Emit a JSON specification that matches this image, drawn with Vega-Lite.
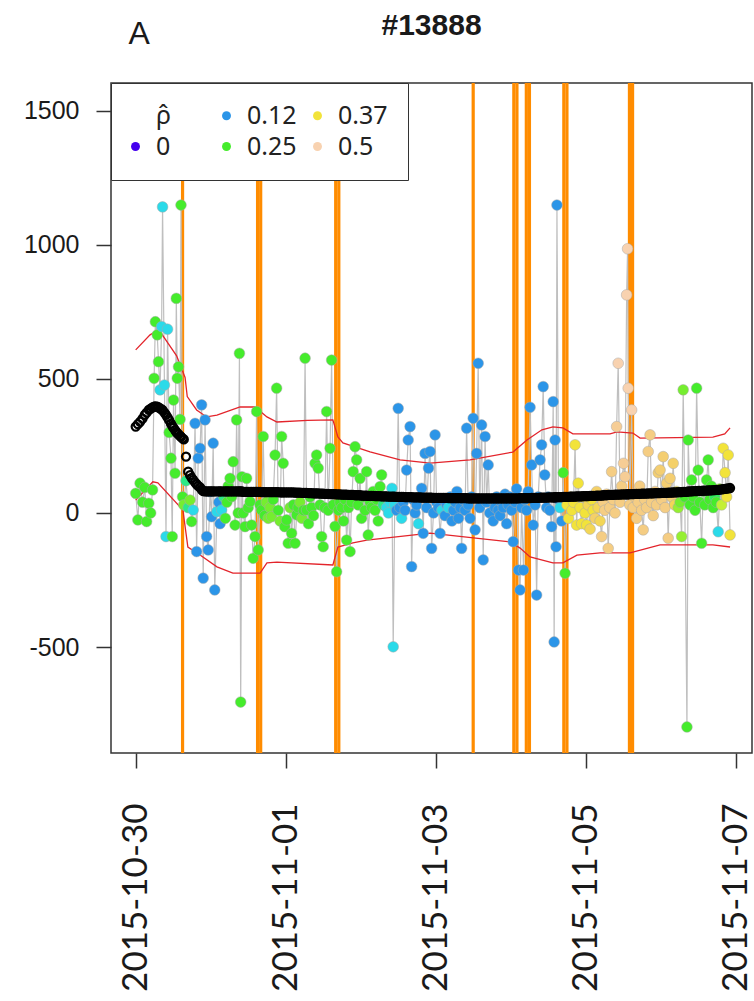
{
 "$schema": "https://vega.github.io/schema/vega-lite/v6.json",
 "width": 641,
 "height": 670,
 "autosize": {"type": "none"},
 "padding": {"left": 111, "top": 83, "right": 2, "bottom": 248},
 "background": "white",
 "config": {
  "view": {"stroke": "#333333", "strokeWidth": 1.5},
  "axis": {"grid": false, "domain": false, "tickColor": "#333333", "tickWidth": 1.5, "tickSize": 15, "labelColor": "#1a1a1a", "titleColor": "#1a1a1a"}
 },
 "datasets": {
  "ev": [
   {"t": "2015-10-30T15:00Z"},
   {"t": "2015-10-31T15:00Z"}, {"t": "2015-10-31T16:00Z"},
   {"t": "2015-11-01T16:00Z"}, {"t": "2015-11-01T17:00Z"},
   {"t": "2015-11-03T12:00Z"},
   {"t": "2015-11-04T01:00Z"}, {"t": "2015-11-04T02:00Z"},
   {"t": "2015-11-04T05:00Z"}, {"t": "2015-11-04T06:00Z"},
   {"t": "2015-11-04T17:00Z"}, {"t": "2015-11-04T18:00Z"},
   {"t": "2015-11-05T14:00Z"}, {"t": "2015-11-05T15:00Z"}
  ],
  "band": [
   {"t": "2015-10-30T00:00Z", "b": 608, "s": "hi"},
   {"t": "2015-10-30T04:36Z", "b": 664, "s": "hi"},
   {"t": "2015-10-30T06:12Z", "b": 675, "s": "hi"},
   {"t": "2015-10-30T08:18Z", "b": 668, "s": "hi"},
   {"t": "2015-10-30T13:06Z", "b": 586, "s": "hi"},
   {"t": "2015-10-30T15:48Z", "b": 505, "s": "hi"},
   {"t": "2015-10-30T16:30Z", "b": 434, "s": "hi"},
   {"t": "2015-10-30T19:30Z", "b": 384, "s": "hi"},
   {"t": "2015-10-30T22:42Z", "b": 358, "s": "hi"},
   {"t": "2015-10-31T02:00Z", "b": 365, "s": "hi"},
   {"t": "2015-10-31T09:24Z", "b": 395, "s": "hi"},
   {"t": "2015-10-31T14:12Z", "b": 395, "s": "hi"},
   {"t": "2015-10-31T18:00Z", "b": 358, "s": "hi"},
   {"t": "2015-10-31T21:12Z", "b": 339, "s": "hi"},
   {"t": "2015-11-01T07:00Z", "b": 345, "s": "hi"},
   {"t": "2015-11-01T15:06Z", "b": 347, "s": "hi"},
   {"t": "2015-11-01T16:42Z", "b": 283, "s": "hi"},
   {"t": "2015-11-01T18:18Z", "b": 261, "s": "hi"},
   {"t": "2015-11-02T03:00Z", "b": 228, "s": "hi"},
   {"t": "2015-11-02T12:36Z", "b": 198, "s": "hi"},
   {"t": "2015-11-02T22:12Z", "b": 186, "s": "hi"},
   {"t": "2015-11-03T11:00Z", "b": 198, "s": "hi"},
   {"t": "2015-11-04T00:42Z", "b": 227, "s": "hi"},
   {"t": "2015-11-04T05:12Z", "b": 272, "s": "hi"},
   {"t": "2015-11-04T10:00Z", "b": 310, "s": "hi"},
   {"t": "2015-11-04T13:30Z", "b": 321, "s": "hi"},
   {"t": "2015-11-04T16:42Z", "b": 317, "s": "hi"},
   {"t": "2015-11-04T19:54Z", "b": 295, "s": "hi"},
   {"t": "2015-11-05T07:48Z", "b": 295, "s": "hi"},
   {"t": "2015-11-05T10:00Z", "b": 302, "s": "hi"},
   {"t": "2015-11-05T15:06Z", "b": 298, "s": "hi"},
   {"t": "2015-11-05T17:24Z", "b": 279, "s": "hi"},
   {"t": "2015-11-06T16:42Z", "b": 283, "s": "hi"},
   {"t": "2015-11-06T20:30Z", "b": 295, "s": "hi"},
   {"t": "2015-11-06T22:12Z", "b": 317, "s": "hi"},
   {"t": "2015-10-30T00:00Z", "b": 48, "s": "lo"},
   {"t": "2015-10-30T05:30Z", "b": 116, "s": "lo"},
   {"t": "2015-10-30T07:06Z", "b": 112, "s": "lo"},
   {"t": "2015-10-30T15:06Z", "b": 11, "s": "lo"},
   {"t": "2015-10-30T16:42Z", "b": -127, "s": "lo"},
   {"t": "2015-10-30T20:36Z", "b": -157, "s": "lo"},
   {"t": "2015-10-31T02:00Z", "b": -201, "s": "lo"},
   {"t": "2015-10-31T07:06Z", "b": -224, "s": "lo"},
   {"t": "2015-10-31T15:48Z", "b": -224, "s": "lo"},
   {"t": "2015-10-31T18:00Z", "b": -186, "s": "lo"},
   {"t": "2015-10-31T21:12Z", "b": -183, "s": "lo"},
   {"t": "2015-11-01T15:06Z", "b": -194, "s": "lo"},
   {"t": "2015-11-01T16:42Z", "b": -127, "s": "lo"},
   {"t": "2015-11-01T21:30Z", "b": -112, "s": "lo"},
   {"t": "2015-11-02T02:00Z", "b": -101, "s": "lo"},
   {"t": "2015-11-02T22:12Z", "b": -75, "s": "lo"},
   {"t": "2015-11-03T23:48Z", "b": -108, "s": "lo"},
   {"t": "2015-11-04T03:00Z", "b": -131, "s": "lo"},
   {"t": "2015-11-04T06:12Z", "b": -164, "s": "lo"},
   {"t": "2015-11-04T13:30Z", "b": -186, "s": "lo"},
   {"t": "2015-11-04T16:42Z", "b": -186, "s": "lo"},
   {"t": "2015-11-04T21:12Z", "b": -157, "s": "lo"},
   {"t": "2015-11-05T04:36Z", "b": -149, "s": "lo"},
   {"t": "2015-11-05T14:12Z", "b": -149, "s": "lo"},
   {"t": "2015-11-05T23:48Z", "b": -119, "s": "lo"},
   {"t": "2015-11-06T16:42Z", "b": -119, "s": "lo"},
   {"t": "2015-11-06T22:12Z", "b": -127, "s": "lo"}
  ],
  "leg": [
   {"lab": "\u03c1\u0302"}, {"lab": "0"}, {"lab": "0.12"},
   {"lab": "0.25"}, {"lab": "0.37"}, {"lab": "0.5"}
  ],
  "obs": [
   {"t": "2015-10-30T00:00Z", "v": 73, "r": 0.25, "m": 322},
   {"t": "2015-10-30T00:42Z", "v": -26, "r": 0.25, "m": 331},
   {"t": "2015-10-30T01:24Z", "v": 111, "r": 0.25, "m": 340},
   {"t": "2015-10-30T02:12Z", "v": 40, "r": 0.25, "m": 352},
   {"t": "2015-10-30T02:54Z", "v": 95, "r": 0.25, "m": 366},
   {"t": "2015-10-30T03:30Z", "v": -32, "r": 0.25, "m": 374},
   {"t": "2015-10-30T04:12Z", "v": 36, "r": 0.25, "m": 384},
   {"t": "2015-10-30T04:48Z", "v": 0, "r": 0.25, "m": 389},
   {"t": "2015-10-30T05:24Z", "v": 86, "r": 0.25, "m": 394},
   {"t": "2015-10-30T05:54Z", "v": 502, "r": 0.25, "m": 396},
   {"t": "2015-10-30T06:18Z", "v": 713, "r": 0.25, "m": 397},
   {"t": "2015-10-30T06:54Z", "v": 664, "r": 0.25, "m": 396},
   {"t": "2015-10-30T07:18Z", "v": 564, "r": 0.25, "m": 394},
   {"t": "2015-10-30T07:48Z", "v": 459, "r": 0.15, "m": 390},
   {"t": "2015-10-30T08:18Z", "v": 695, "r": 0.15, "m": 386},
   {"t": "2015-10-30T08:36Z", "v": 1141, "r": 0.15, "m": 383},
   {"t": "2015-10-30T09:12Z", "v": 477, "r": 0.15, "m": 374},
   {"t": "2015-10-30T09:42Z", "v": -88, "r": 0.15, "m": 366},
   {"t": "2015-10-30T10:12Z", "v": 685, "r": 0.15, "m": 356},
   {"t": "2015-10-30T10:42Z", "v": 300, "r": 0.25, "m": 346},
   {"t": "2015-10-30T11:18Z", "v": 204, "r": 0.25, "m": 333},
   {"t": "2015-10-30T11:42Z", "v": -88, "r": 0.25, "m": 325},
   {"t": "2015-10-30T12:06Z", "v": 421, "r": 0.25, "m": 317},
   {"t": "2015-10-30T12:36Z", "v": 148, "r": 0.25, "m": 309},
   {"t": "2015-10-30T13:00Z", "v": 800, "r": 0.25, "m": 302},
   {"t": "2015-10-30T13:18Z", "v": 502, "r": 0.25, "m": 298},
   {"t": "2015-10-30T13:42Z", "v": 545, "r": 0.25, "m": 293},
   {"t": "2015-10-30T14:12Z", "v": 349, "r": 0.25, "m": 287},
   {"t": "2015-10-30T14:30Z", "v": 1148, "r": 0.25, "m": 284},
   {"t": "2015-10-30T15:00Z", "v": 60, "r": 0.25, "m": 278},
   {"t": "2015-10-30T15:24Z", "v": 30, "r": 0.28, "m": 274},
   {"t": "2015-10-30T16:06Z", "v": 120, "r": 0.2, "m": 210},
   {"t": "2015-10-30T16:48Z", "v": 20, "r": 0.2, "m": 154},
   {"t": "2015-10-30T17:24Z", "v": 48, "r": 0.28, "m": 141},
   {"t": "2015-10-30T17:54Z", "v": -32, "r": 0.25, "m": 131},
   {"t": "2015-10-30T18:24Z", "v": 11, "r": 0.15, "m": 123},
   {"t": "2015-10-30T19:00Z", "v": 334, "r": 0.12, "m": 114},
   {"t": "2015-10-30T19:30Z", "v": -144, "r": 0.12, "m": 107},
   {"t": "2015-10-30T20:00Z", "v": 204, "r": 0.12, "m": 101},
   {"t": "2015-10-30T20:36Z", "v": 241, "r": 0.12, "m": 95},
   {"t": "2015-10-30T21:06Z", "v": 403, "r": 0.12, "m": 87},
   {"t": "2015-10-30T21:36Z", "v": -243, "r": 0.12, "m": 81},
   {"t": "2015-10-30T22:12Z", "v": 347, "r": 0.12, "m": 80},
   {"t": "2015-10-30T22:42Z", "v": -88, "r": 0.12, "m": 80},
   {"t": "2015-10-30T23:12Z", "v": -138, "r": 0.12, "m": 80},
   {"t": "2015-10-30T23:48Z", "v": 79, "r": 0.12, "m": 80},
   {"t": "2015-10-31T00:18Z", "v": -14, "r": 0.12, "m": 80},
   {"t": "2015-10-31T00:48Z", "v": 260, "r": 0.12, "m": 80},
   {"t": "2015-10-31T01:18Z", "v": -287, "r": 0.12, "m": 80},
   {"t": "2015-10-31T02:00Z", "v": 5, "r": 0.15, "m": 80},
   {"t": "2015-10-31T02:36Z", "v": 40, "r": 0.12, "m": 80},
   {"t": "2015-10-31T03:00Z", "v": -40, "r": 0.12, "m": 80},
   {"t": "2015-10-31T03:30Z", "v": 11, "r": 0.15, "m": 80},
   {"t": "2015-10-31T04:12Z", "v": 60, "r": 0.2, "m": 80},
   {"t": "2015-10-31T04:42Z", "v": -20, "r": 0.25, "m": 80},
   {"t": "2015-10-31T05:12Z", "v": 40, "r": 0.25, "m": 80},
   {"t": "2015-10-31T05:36Z", "v": 100, "r": 0.25, "m": 80},
   {"t": "2015-10-31T06:12Z", "v": 129, "r": 0.25, "m": 80},
   {"t": "2015-10-31T06:42Z", "v": 61, "r": 0.25, "m": 80},
   {"t": "2015-10-31T07:12Z", "v": 191, "r": 0.25, "m": 80},
   {"t": "2015-10-31T07:48Z", "v": -45, "r": 0.25, "m": 80},
   {"t": "2015-10-31T08:18Z", "v": 347, "r": 0.25, "m": 80},
   {"t": "2015-10-31T08:48Z", "v": 0, "r": 0.25, "m": 80},
   {"t": "2015-10-31T09:12Z", "v": 595, "r": 0.25, "m": 80},
   {"t": "2015-10-31T09:36Z", "v": -705, "r": 0.25, "m": 80},
   {"t": "2015-10-31T10:00Z", "v": 135, "r": 0.25, "m": 80},
   {"t": "2015-10-31T10:24Z", "v": 0, "r": 0.25, "m": 79},
   {"t": "2015-10-31T11:00Z", "v": -51, "r": 0.25, "m": 79},
   {"t": "2015-10-31T11:30Z", "v": 129, "r": 0.25, "m": 79},
   {"t": "2015-10-31T12:00Z", "v": 20, "r": 0.25, "m": 79},
   {"t": "2015-10-31T12:36Z", "v": 42, "r": 0.25, "m": 79},
   {"t": "2015-10-31T13:06Z", "v": -45, "r": 0.25, "m": 79},
   {"t": "2015-10-31T13:36Z", "v": -169, "r": 0.25, "m": 79},
   {"t": "2015-10-31T14:12Z", "v": -88, "r": 0.25, "m": 79},
   {"t": "2015-10-31T14:42Z", "v": 378, "r": 0.25, "m": 79},
   {"t": "2015-10-31T15:12Z", "v": -138, "r": 0.25, "m": 79},
   {"t": "2015-10-31T15:48Z", "v": 30, "r": 0.25, "m": 79},
   {"t": "2015-10-31T16:18Z", "v": 10, "r": 0.25, "m": 78},
   {"t": "2015-10-31T16:48Z", "v": 285, "r": 0.25, "m": 78},
   {"t": "2015-10-31T17:18Z", "v": -10, "r": 0.25, "m": 78},
   {"t": "2015-10-31T17:48Z", "v": 40, "r": 0.28, "m": 78},
   {"t": "2015-10-31T18:24Z", "v": -20, "r": 0.28, "m": 78},
   {"t": "2015-10-31T19:00Z", "v": 20, "r": 0.28, "m": 78},
   {"t": "2015-10-31T19:30Z", "v": -14, "r": 0.28, "m": 78},
   {"t": "2015-10-31T20:00Z", "v": 50, "r": 0.25, "m": 78},
   {"t": "2015-10-31T20:36Z", "v": 216, "r": 0.25, "m": 78},
   {"t": "2015-10-31T21:06Z", "v": 465, "r": 0.25, "m": 78},
   {"t": "2015-10-31T21:36Z", "v": 10, "r": 0.25, "m": 78},
   {"t": "2015-10-31T22:12Z", "v": -30, "r": 0.28, "m": 77},
   {"t": "2015-10-31T22:42Z", "v": 285, "r": 0.25, "m": 77},
   {"t": "2015-10-31T23:12Z", "v": 185, "r": 0.25, "m": 77},
   {"t": "2015-10-31T23:42Z", "v": -51, "r": 0.25, "m": 77},
   {"t": "2015-11-01T00:18Z", "v": -26, "r": 0.25, "m": 77},
   {"t": "2015-11-01T00:48Z", "v": -113, "r": 0.25, "m": 77},
   {"t": "2015-11-01T01:24Z", "v": 20, "r": 0.28, "m": 77},
   {"t": "2015-11-01T01:54Z", "v": -76, "r": 0.25, "m": 77},
   {"t": "2015-11-01T02:30Z", "v": 30, "r": 0.25, "m": 77},
   {"t": "2015-11-01T03:00Z", "v": -113, "r": 0.25, "m": 76},
   {"t": "2015-11-01T03:30Z", "v": -7, "r": 0.25, "m": 76},
   {"t": "2015-11-01T04:00Z", "v": 20, "r": 0.25, "m": 76},
   {"t": "2015-11-01T04:36Z", "v": 40, "r": 0.28, "m": 76},
   {"t": "2015-11-01T05:12Z", "v": -20, "r": 0.28, "m": 75},
   {"t": "2015-11-01T05:42Z", "v": 10, "r": 0.25, "m": 75},
   {"t": "2015-11-01T06:12Z", "v": 577, "r": 0.25, "m": 75},
   {"t": "2015-11-01T06:42Z", "v": 11, "r": 0.25, "m": 75},
   {"t": "2015-11-01T07:18Z", "v": -40, "r": 0.25, "m": 74},
   {"t": "2015-11-01T07:48Z", "v": 60, "r": 0.25, "m": 74},
   {"t": "2015-11-01T08:18Z", "v": 20, "r": 0.25, "m": 74},
   {"t": "2015-11-01T08:54Z", "v": -10, "r": 0.25, "m": 73},
   {"t": "2015-11-01T09:24Z", "v": 185, "r": 0.25, "m": 73},
   {"t": "2015-11-01T09:54Z", "v": 216, "r": 0.25, "m": 73},
   {"t": "2015-11-01T10:24Z", "v": 167, "r": 0.25, "m": 73},
   {"t": "2015-11-01T11:00Z", "v": 30, "r": 0.25, "m": 72},
   {"t": "2015-11-01T11:30Z", "v": -88, "r": 0.25, "m": 72},
   {"t": "2015-11-01T12:00Z", "v": -126, "r": 0.25, "m": 72},
   {"t": "2015-11-01T12:30Z", "v": 20, "r": 0.25, "m": 71},
   {"t": "2015-11-01T13:06Z", "v": 378, "r": 0.25, "m": 71},
   {"t": "2015-11-01T13:36Z", "v": 10, "r": 0.25, "m": 71},
   {"t": "2015-11-01T14:12Z", "v": 241, "r": 0.25, "m": 70},
   {"t": "2015-11-01T14:42Z", "v": 570, "r": 0.25, "m": 70},
   {"t": "2015-11-01T15:12Z", "v": 30, "r": 0.25, "m": 70},
   {"t": "2015-11-01T15:48Z", "v": -50, "r": 0.25, "m": 70},
   {"t": "2015-11-01T16:18Z", "v": -219, "r": 0.25, "m": 69},
   {"t": "2015-11-01T16:54Z", "v": 10, "r": 0.25, "m": 69},
   {"t": "2015-11-01T17:24Z", "v": 40, "r": 0.25, "m": 69},
   {"t": "2015-11-01T18:00Z", "v": 20, "r": 0.25, "m": 68},
   {"t": "2015-11-01T18:30Z", "v": -30, "r": 0.25, "m": 68},
   {"t": "2015-11-01T19:00Z", "v": 50, "r": 0.25, "m": 68},
   {"t": "2015-11-01T19:30Z", "v": -101, "r": 0.25, "m": 68},
   {"t": "2015-11-01T20:06Z", "v": 20, "r": 0.25, "m": 67},
   {"t": "2015-11-01T20:36Z", "v": -144, "r": 0.25, "m": 67},
   {"t": "2015-11-01T21:06Z", "v": 40, "r": 0.25, "m": 67},
   {"t": "2015-11-01T21:36Z", "v": 154, "r": 0.25, "m": 67},
   {"t": "2015-11-01T22:12Z", "v": 247, "r": 0.25, "m": 66},
   {"t": "2015-11-01T22:42Z", "v": 198, "r": 0.25, "m": 66},
   {"t": "2015-11-01T23:12Z", "v": 30, "r": 0.25, "m": 66},
   {"t": "2015-11-01T23:48Z", "v": 129, "r": 0.25, "m": 66},
   {"t": "2015-11-02T00:18Z", "v": -20, "r": 0.25, "m": 65},
   {"t": "2015-11-02T00:48Z", "v": 60, "r": 0.25, "m": 65},
   {"t": "2015-11-02T01:24Z", "v": 10, "r": 0.25, "m": 65},
   {"t": "2015-11-02T01:54Z", "v": 154, "r": 0.25, "m": 65},
   {"t": "2015-11-02T02:24Z", "v": -82, "r": 0.25, "m": 64},
   {"t": "2015-11-02T03:00Z", "v": 40, "r": 0.25, "m": 64},
   {"t": "2015-11-02T03:30Z", "v": 20, "r": 0.25, "m": 64},
   {"t": "2015-11-02T04:00Z", "v": 80, "r": 0.25, "m": 64},
   {"t": "2015-11-02T04:36Z", "v": 10, "r": 0.25, "m": 63},
   {"t": "2015-11-02T05:06Z", "v": 50, "r": 0.25, "m": 63},
   {"t": "2015-11-02T05:36Z", "v": -30, "r": 0.25, "m": 63},
   {"t": "2015-11-02T06:12Z", "v": 98, "r": 0.25, "m": 63},
   {"t": "2015-11-02T06:42Z", "v": 142, "r": 0.25, "m": 62},
   {"t": "2015-11-02T07:12Z", "v": 30, "r": 0.2, "m": 62},
   {"t": "2015-11-02T07:48Z", "v": 60, "r": 0.2, "m": 62},
   {"t": "2015-11-02T08:18Z", "v": 20, "r": 0.15, "m": 62},
   {"t": "2015-11-02T08:54Z", "v": 0, "r": 0.15, "m": 61},
   {"t": "2015-11-02T09:24Z", "v": 40, "r": 0.15, "m": 61},
   {"t": "2015-11-02T10:00Z", "v": 92, "r": 0.15, "m": 61},
   {"t": "2015-11-02T10:24Z", "v": -499, "r": 0.15, "m": 61},
   {"t": "2015-11-02T10:54Z", "v": 30, "r": 0.15, "m": 61},
   {"t": "2015-11-02T11:30Z", "v": 10, "r": 0.12, "m": 60},
   {"t": "2015-11-02T12:00Z", "v": 390, "r": 0.12, "m": 60},
   {"t": "2015-11-02T12:30Z", "v": 20, "r": 0.12, "m": 60},
   {"t": "2015-11-02T13:06Z", "v": -20, "r": 0.15, "m": 60},
   {"t": "2015-11-02T13:36Z", "v": 40, "r": 0.12, "m": 60},
   {"t": "2015-11-02T14:12Z", "v": 10, "r": 0.12, "m": 59},
   {"t": "2015-11-02T14:42Z", "v": 160, "r": 0.12, "m": 59},
   {"t": "2015-11-02T15:12Z", "v": 272, "r": 0.12, "m": 59},
   {"t": "2015-11-02T15:48Z", "v": 322, "r": 0.12, "m": 59},
   {"t": "2015-11-02T16:18Z", "v": -200, "r": 0.12, "m": 59},
   {"t": "2015-11-02T16:48Z", "v": 50, "r": 0.12, "m": 58},
   {"t": "2015-11-02T17:24Z", "v": 0, "r": 0.12, "m": 58},
   {"t": "2015-11-02T17:54Z", "v": 30, "r": 0.12, "m": 58},
   {"t": "2015-11-02T18:30Z", "v": -40, "r": 0.15, "m": 58},
   {"t": "2015-11-02T19:00Z", "v": 60, "r": 0.12, "m": 58},
   {"t": "2015-11-02T19:30Z", "v": 92, "r": 0.12, "m": 57},
   {"t": "2015-11-02T20:00Z", "v": -76, "r": 0.12, "m": 57},
   {"t": "2015-11-02T20:36Z", "v": 222, "r": 0.12, "m": 57},
   {"t": "2015-11-02T21:06Z", "v": 20, "r": 0.12, "m": 57},
   {"t": "2015-11-02T21:42Z", "v": 167, "r": 0.12, "m": 57},
   {"t": "2015-11-02T22:12Z", "v": 229, "r": 0.12, "m": 57},
   {"t": "2015-11-02T22:42Z", "v": -132, "r": 0.12, "m": 57},
   {"t": "2015-11-02T23:18Z", "v": 0, "r": 0.12, "m": 56},
   {"t": "2015-11-02T23:48Z", "v": 291, "r": 0.12, "m": 56},
   {"t": "2015-11-03T00:18Z", "v": 40, "r": 0.12, "m": 56},
   {"t": "2015-11-03T00:54Z", "v": 20, "r": 0.12, "m": 56},
   {"t": "2015-11-03T01:24Z", "v": -76, "r": 0.12, "m": 56},
   {"t": "2015-11-03T02:00Z", "v": 10, "r": 0.15, "m": 56},
   {"t": "2015-11-03T02:30Z", "v": 50, "r": 0.12, "m": 56},
   {"t": "2015-11-03T03:00Z", "v": -10, "r": 0.12, "m": 56},
   {"t": "2015-11-03T03:36Z", "v": 30, "r": 0.12, "m": 56},
   {"t": "2015-11-03T04:06Z", "v": 20, "r": 0.15, "m": 55},
   {"t": "2015-11-03T04:42Z", "v": 60, "r": 0.12, "m": 55},
   {"t": "2015-11-03T05:12Z", "v": -30, "r": 0.12, "m": 55},
   {"t": "2015-11-03T05:42Z", "v": 10, "r": 0.12, "m": 55},
   {"t": "2015-11-03T06:18Z", "v": 40, "r": 0.12, "m": 55},
   {"t": "2015-11-03T06:48Z", "v": 80, "r": 0.12, "m": 55},
   {"t": "2015-11-03T07:18Z", "v": -20, "r": 0.12, "m": 55},
   {"t": "2015-11-03T07:54Z", "v": 20, "r": 0.12, "m": 55},
   {"t": "2015-11-03T08:18Z", "v": -132, "r": 0.12, "m": 55},
   {"t": "2015-11-03T08:48Z", "v": 50, "r": 0.12, "m": 55},
   {"t": "2015-11-03T09:24Z", "v": 10, "r": 0.12, "m": 55},
   {"t": "2015-11-03T09:54Z", "v": 316, "r": 0.12, "m": 55},
   {"t": "2015-11-03T10:24Z", "v": 30, "r": 0.12, "m": 54},
   {"t": "2015-11-03T11:00Z", "v": -20, "r": 0.12, "m": 54},
   {"t": "2015-11-03T11:30Z", "v": 60, "r": 0.12, "m": 54},
   {"t": "2015-11-03T12:00Z", "v": 353, "r": 0.12, "m": 54},
   {"t": "2015-11-03T12:36Z", "v": -63, "r": 0.12, "m": 54},
   {"t": "2015-11-03T13:06Z", "v": 222, "r": 0.12, "m": 54},
   {"t": "2015-11-03T13:36Z", "v": 558, "r": 0.12, "m": 54},
   {"t": "2015-11-03T14:06Z", "v": 20, "r": 0.12, "m": 54},
   {"t": "2015-11-03T14:42Z", "v": 328, "r": 0.12, "m": 54},
   {"t": "2015-11-03T15:12Z", "v": -175, "r": 0.12, "m": 54},
   {"t": "2015-11-03T15:48Z", "v": 285, "r": 0.12, "m": 54},
   {"t": "2015-11-03T16:18Z", "v": 40, "r": 0.12, "m": 54},
   {"t": "2015-11-03T16:48Z", "v": 179, "r": 0.12, "m": 54},
   {"t": "2015-11-03T17:18Z", "v": 0, "r": 0.12, "m": 54},
   {"t": "2015-11-03T17:54Z", "v": 50, "r": 0.12, "m": 54},
   {"t": "2015-11-03T18:24Z", "v": -30, "r": 0.12, "m": 54},
   {"t": "2015-11-03T19:00Z", "v": 20, "r": 0.12, "m": 54},
   {"t": "2015-11-03T19:30Z", "v": 60, "r": 0.12, "m": 54},
   {"t": "2015-11-03T20:00Z", "v": 10, "r": 0.12, "m": 54},
   {"t": "2015-11-03T20:36Z", "v": -10, "r": 0.12, "m": 54},
   {"t": "2015-11-03T21:06Z", "v": 40, "r": 0.12, "m": 54},
   {"t": "2015-11-03T21:36Z", "v": 20, "r": 0.12, "m": 54},
   {"t": "2015-11-03T22:12Z", "v": 70, "r": 0.12, "m": 54},
   {"t": "2015-11-03T22:42Z", "v": -40, "r": 0.12, "m": 54},
   {"t": "2015-11-03T23:12Z", "v": 30, "r": 0.12, "m": 54},
   {"t": "2015-11-03T23:48Z", "v": 60, "r": 0.12, "m": 54},
   {"t": "2015-11-04T00:18Z", "v": 10, "r": 0.12, "m": 54},
   {"t": "2015-11-04T00:48Z", "v": -107, "r": 0.12, "m": 54},
   {"t": "2015-11-04T01:24Z", "v": 40, "r": 0.12, "m": 54},
   {"t": "2015-11-04T01:54Z", "v": 90, "r": 0.12, "m": 54},
   {"t": "2015-11-04T02:30Z", "v": -213, "r": 0.12, "m": 54},
   {"t": "2015-11-04T03:00Z", "v": -287, "r": 0.12, "m": 55},
   {"t": "2015-11-04T03:30Z", "v": 20, "r": 0.12, "m": 55},
   {"t": "2015-11-04T04:06Z", "v": -213, "r": 0.12, "m": 55},
   {"t": "2015-11-04T04:36Z", "v": 50, "r": 0.12, "m": 55},
   {"t": "2015-11-04T05:06Z", "v": 10, "r": 0.12, "m": 55},
   {"t": "2015-11-04T05:36Z", "v": 80, "r": 0.12, "m": 55},
   {"t": "2015-11-04T06:12Z", "v": 394, "r": 0.12, "m": 55},
   {"t": "2015-11-04T06:42Z", "v": 179, "r": 0.12, "m": 56},
   {"t": "2015-11-04T07:12Z", "v": -45, "r": 0.12, "m": 56},
   {"t": "2015-11-04T07:48Z", "v": 30, "r": 0.12, "m": 56},
   {"t": "2015-11-04T08:18Z", "v": -306, "r": 0.12, "m": 56},
   {"t": "2015-11-04T08:48Z", "v": 60, "r": 0.12, "m": 56},
   {"t": "2015-11-04T09:24Z", "v": 198, "r": 0.12, "m": 57},
   {"t": "2015-11-04T09:54Z", "v": 254, "r": 0.12, "m": 57},
   {"t": "2015-11-04T10:24Z", "v": 471, "r": 0.12, "m": 57},
   {"t": "2015-11-04T10:54Z", "v": 142, "r": 0.12, "m": 57},
   {"t": "2015-11-04T11:30Z", "v": 20, "r": 0.12, "m": 57},
   {"t": "2015-11-04T12:00Z", "v": 60, "r": 0.12, "m": 58},
   {"t": "2015-11-04T12:30Z", "v": 10, "r": 0.12, "m": 58},
   {"t": "2015-11-04T13:06Z", "v": -51, "r": 0.12, "m": 58},
   {"t": "2015-11-04T13:36Z", "v": 415, "r": 0.12, "m": 58},
   {"t": "2015-11-04T13:54Z", "v": -481, "r": 0.12, "m": 58},
   {"t": "2015-11-04T14:12Z", "v": 272, "r": 0.12, "m": 58},
   {"t": "2015-11-04T14:30Z", "v": -126, "r": 0.12, "m": 59},
   {"t": "2015-11-04T14:48Z", "v": 1148, "r": 0.12, "m": 59},
   {"t": "2015-11-04T15:18Z", "v": 50, "r": 0.12, "m": 59},
   {"t": "2015-11-04T15:48Z", "v": 20, "r": 0.15, "m": 59},
   {"t": "2015-11-04T16:18Z", "v": -30, "r": 0.12, "m": 59},
   {"t": "2015-11-04T16:48Z", "v": 150, "r": 0.25, "m": 60},
   {"t": "2015-11-04T17:24Z", "v": -225, "r": 0.25, "m": 60},
   {"t": "2015-11-04T18:00Z", "v": 30, "r": 0.37, "m": 60},
   {"t": "2015-11-04T18:30Z", "v": -20, "r": 0.37, "m": 60},
   {"t": "2015-11-04T19:06Z", "v": 60, "r": 0.37, "m": 61},
   {"t": "2015-11-04T19:36Z", "v": 10, "r": 0.37, "m": 61},
   {"t": "2015-11-04T20:06Z", "v": 40, "r": 0.37, "m": 61},
   {"t": "2015-11-04T20:36Z", "v": 254, "r": 0.37, "m": 61},
   {"t": "2015-11-04T21:06Z", "v": -45, "r": 0.37, "m": 62},
   {"t": "2015-11-04T21:36Z", "v": 111, "r": 0.37, "m": 62},
   {"t": "2015-11-04T22:12Z", "v": 20, "r": 0.37, "m": 62},
   {"t": "2015-11-04T22:42Z", "v": -40, "r": 0.37, "m": 62},
   {"t": "2015-11-04T23:12Z", "v": 60, "r": 0.37, "m": 63},
   {"t": "2015-11-04T23:48Z", "v": 0, "r": 0.37, "m": 63},
   {"t": "2015-11-05T00:18Z", "v": -45, "r": 0.37, "m": 63},
   {"t": "2015-11-05T00:48Z", "v": 30, "r": 0.4, "m": 63},
   {"t": "2015-11-05T01:24Z", "v": -60, "r": 0.4, "m": 64},
   {"t": "2015-11-05T01:54Z", "v": 50, "r": 0.37, "m": 64},
   {"t": "2015-11-05T02:24Z", "v": 10, "r": 0.37, "m": 64},
   {"t": "2015-11-05T03:00Z", "v": -20, "r": 0.42, "m": 64},
   {"t": "2015-11-05T03:30Z", "v": 80, "r": 0.42, "m": 65},
   {"t": "2015-11-05T04:00Z", "v": 20, "r": 0.4, "m": 65},
   {"t": "2015-11-05T04:36Z", "v": -30, "r": 0.4, "m": 65},
   {"t": "2015-11-05T05:06Z", "v": -88, "r": 0.45, "m": 65},
   {"t": "2015-11-05T05:36Z", "v": 40, "r": 0.45, "m": 66},
   {"t": "2015-11-05T06:06Z", "v": 10, "r": 0.45, "m": 66},
   {"t": "2015-11-05T06:42Z", "v": 70, "r": 0.45, "m": 66},
   {"t": "2015-11-05T07:12Z", "v": -132, "r": 0.45, "m": 67},
   {"t": "2015-11-05T07:42Z", "v": 20, "r": 0.45, "m": 67},
   {"t": "2015-11-05T08:18Z", "v": 154, "r": 0.45, "m": 67},
   {"t": "2015-11-05T08:48Z", "v": 50, "r": 0.45, "m": 67},
   {"t": "2015-11-05T09:24Z", "v": 0, "r": 0.45, "m": 68},
   {"t": "2015-11-05T09:54Z", "v": 322, "r": 0.47, "m": 68},
   {"t": "2015-11-05T10:24Z", "v": 558, "r": 0.5, "m": 68},
   {"t": "2015-11-05T11:00Z", "v": 40, "r": 0.45, "m": 68},
   {"t": "2015-11-05T11:30Z", "v": 100, "r": 0.45, "m": 69},
   {"t": "2015-11-05T12:06Z", "v": 185, "r": 0.47, "m": 69},
   {"t": "2015-11-05T12:36Z", "v": 135, "r": 0.47, "m": 69},
   {"t": "2015-11-05T13:06Z", "v": 813, "r": 0.5, "m": 69},
   {"t": "2015-11-05T13:24Z", "v": 985, "r": 0.5, "m": 69},
   {"t": "2015-11-05T13:36Z", "v": 465, "r": 0.5, "m": 70},
   {"t": "2015-11-05T14:06Z", "v": 30, "r": 0.45, "m": 70},
   {"t": "2015-11-05T14:42Z", "v": 384, "r": 0.5, "m": 70},
   {"t": "2015-11-05T15:12Z", "v": 20, "r": 0.45, "m": 70},
   {"t": "2015-11-05T15:42Z", "v": 60, "r": 0.45, "m": 71},
   {"t": "2015-11-05T16:18Z", "v": -20, "r": 0.45, "m": 71},
   {"t": "2015-11-05T16:48Z", "v": 40, "r": 0.45, "m": 71},
   {"t": "2015-11-05T17:18Z", "v": 100, "r": 0.45, "m": 71},
   {"t": "2015-11-05T17:54Z", "v": 10, "r": 0.45, "m": 72},
   {"t": "2015-11-05T18:24Z", "v": -63, "r": 0.45, "m": 72},
   {"t": "2015-11-05T18:54Z", "v": 50, "r": 0.45, "m": 72},
   {"t": "2015-11-05T19:30Z", "v": 20, "r": 0.45, "m": 72},
   {"t": "2015-11-05T20:00Z", "v": 229, "r": 0.45, "m": 73},
   {"t": "2015-11-05T20:36Z", "v": 291, "r": 0.45, "m": 73},
   {"t": "2015-11-05T21:06Z", "v": 40, "r": 0.45, "m": 73},
   {"t": "2015-11-05T21:36Z", "v": -10, "r": 0.45, "m": 73},
   {"t": "2015-11-05T22:12Z", "v": 80, "r": 0.45, "m": 74},
   {"t": "2015-11-05T22:42Z", "v": 30, "r": 0.45, "m": 74},
   {"t": "2015-11-05T23:12Z", "v": 150, "r": 0.43, "m": 74},
   {"t": "2015-11-05T23:48Z", "v": 160, "r": 0.43, "m": 74},
   {"t": "2015-11-06T00:18Z", "v": 50, "r": 0.45, "m": 75},
   {"t": "2015-11-06T00:48Z", "v": 210, "r": 0.43, "m": 75},
   {"t": "2015-11-06T01:24Z", "v": 20, "r": 0.45, "m": 75},
   {"t": "2015-11-06T01:54Z", "v": 111, "r": 0.43, "m": 75},
   {"t": "2015-11-06T02:24Z", "v": -94, "r": 0.45, "m": 76},
   {"t": "2015-11-06T03:00Z", "v": 129, "r": 0.43, "m": 76},
   {"t": "2015-11-06T03:30Z", "v": 60, "r": 0.43, "m": 76},
   {"t": "2015-11-06T04:00Z", "v": 185, "r": 0.42, "m": 77},
   {"t": "2015-11-06T04:30Z", "v": 30, "r": 0.4, "m": 77},
   {"t": "2015-11-06T05:06Z", "v": 80, "r": 0.37, "m": 77},
   {"t": "2015-11-06T05:36Z", "v": 20, "r": 0.3, "m": 78},
   {"t": "2015-11-06T06:12Z", "v": 40, "r": 0.28, "m": 78},
   {"t": "2015-11-06T06:42Z", "v": -88, "r": 0.3, "m": 78},
   {"t": "2015-11-06T07:12Z", "v": 459, "r": 0.28, "m": 79},
   {"t": "2015-11-06T07:42Z", "v": 60, "r": 0.25, "m": 79},
   {"t": "2015-11-06T08:24Z", "v": -798, "r": 0.25, "m": 79},
   {"t": "2015-11-06T08:48Z", "v": 272, "r": 0.25, "m": 80},
   {"t": "2015-11-06T09:24Z", "v": 30, "r": 0.25, "m": 80},
   {"t": "2015-11-06T09:54Z", "v": 123, "r": 0.25, "m": 80},
   {"t": "2015-11-06T10:24Z", "v": 60, "r": 0.25, "m": 81},
   {"t": "2015-11-06T11:00Z", "v": 10, "r": 0.25, "m": 81},
   {"t": "2015-11-06T11:30Z", "v": 465, "r": 0.25, "m": 81},
   {"t": "2015-11-06T12:00Z", "v": 160, "r": 0.25, "m": 82},
   {"t": "2015-11-06T12:30Z", "v": 40, "r": 0.25, "m": 82},
   {"t": "2015-11-06T13:06Z", "v": -113, "r": 0.25, "m": 82},
   {"t": "2015-11-06T13:36Z", "v": 80, "r": 0.25, "m": 83},
   {"t": "2015-11-06T14:06Z", "v": 30, "r": 0.25, "m": 83},
   {"t": "2015-11-06T14:42Z", "v": 123, "r": 0.25, "m": 83},
   {"t": "2015-11-06T15:12Z", "v": 198, "r": 0.25, "m": 84},
   {"t": "2015-11-06T15:42Z", "v": 50, "r": 0.25, "m": 84},
   {"t": "2015-11-06T16:12Z", "v": 100, "r": 0.25, "m": 84},
   {"t": "2015-11-06T16:48Z", "v": 20, "r": 0.25, "m": 85},
   {"t": "2015-11-06T17:18Z", "v": 60, "r": 0.22, "m": 85},
   {"t": "2015-11-06T17:48Z", "v": 40, "r": 0.25, "m": 86},
   {"t": "2015-11-06T18:24Z", "v": -70, "r": 0.15, "m": 86},
   {"t": "2015-11-06T18:54Z", "v": 90, "r": 0.3, "m": 87},
   {"t": "2015-11-06T19:30Z", "v": 30, "r": 0.33, "m": 88},
   {"t": "2015-11-06T20:00Z", "v": 241, "r": 0.37, "m": 89},
   {"t": "2015-11-06T20:36Z", "v": 150, "r": 0.37, "m": 90},
   {"t": "2015-11-06T21:06Z", "v": 60, "r": 0.37, "m": 91},
   {"t": "2015-11-06T21:36Z", "v": 216, "r": 0.37, "m": 92},
   {"t": "2015-11-06T22:12Z", "v": -82, "r": 0.37, "m": 93}
  ]
 },
 "layer": [
  {
   "data": {"name": "ev"},
   "mark": {"type": "rule", "color": "#ff8c00", "strokeWidth": 3.2},
   "encoding": {
    "x": {
     "field": "t", "type": "temporal",
     "scale": {"type": "utc", "domain": [{"year": 2015, "month": 10, "date": 29, "hours": 16, "minutes": 6, "utc": true}, {"year": 2015, "month": 11, "date": 7, "hours": 5, "minutes": 13, "utc": true}]},
     "axis": {
      "values": [
       {"year": 2015, "month": 10, "date": 30, "utc": true},
       {"year": 2015, "month": 11, "date": 1, "utc": true},
       {"year": 2015, "month": 11, "date": 3, "utc": true},
       {"year": 2015, "month": 11, "date": 5, "utc": true},
       {"year": 2015, "month": 11, "date": 7, "utc": true}
      ],
      "format": "%Y-%m-%d",
      "labelAngle": 270,
      "labelFont": "Lato",
      "labelFontSize": 35,
      "labelPadding": 35,
      "labelLimit": 400,
      "labelOverlap": false,
      "title": "#13888",
      "titleFont": "Liberation Sans",
      "titleFontSize": 30,
      "titleFontWeight": "bold",
      "titleX": 320,
      "titleY": -728,
      "titleBaseline": "middle",
      "titleAlign": "center"
     }
    }
   }
  },
  {
   "data": {"name": "obs"},
   "mark": {"type": "line", "color": "#bfbfbf", "strokeWidth": 1.2},
   "encoding": {
    "x": {"field": "t", "type": "temporal"},
    "y": {
     "field": "v", "type": "quantitative",
     "scale": {"domain": [-895, 1603], "nice": false, "zero": false},
     "axis": {
      "values": [-500, 0, 500, 1000, 1500],
      "labelExpr": "'' + datum.value",
      "labelFont": "Liberation Sans",
      "labelFontSize": 25,
      "labelPadding": 17,
      "title": "A",
      "titleAngle": 0,
      "titleFont": "Liberation Sans",
      "titleFontSize": 32,
      "titleFontWeight": "normal",
      "titleAlign": "left",
      "titleBaseline": "middle",
      "titleX": 17,
      "titleY": -50
     }
    }
   }
  },
  {
   "data": {"name": "band"},
   "mark": {"type": "line", "color": "#e3242b", "strokeWidth": 1.3},
   "encoding": {
    "x": {"field": "t", "type": "temporal"},
    "y": {"field": "b", "type": "quantitative"},
    "detail": {"field": "s", "type": "nominal"}
   }
  },
  {
   "data": {"name": "obs"},
   "mark": {"type": "point", "filled": true, "size": 115, "stroke": "#a8a8a8", "strokeWidth": 0.5, "opacity": 1},
   "encoding": {
    "x": {"field": "t", "type": "temporal"},
    "y": {"field": "v", "type": "quantitative"},
    "fill": {
     "field": "r", "type": "quantitative",
     "scale": {"type": "linear", "domain": [0, 0.12, 0.25, 0.37, 0.5], "range": ["#4400ee", "#2b95e8", "#45ec2c", "#f2e33a", "#f8d2b0"], "interpolate": "hsl"},
     "legend": null
    }
   }
  },
  {
   "data": {"name": "obs"},
   "mark": {"type": "point", "filled": false, "size": 65, "color": "#000000", "strokeWidth": 2.2, "opacity": 1},
   "encoding": {
    "x": {"field": "t", "type": "temporal"},
    "y": {"field": "m", "type": "quantitative"}
   }
  },
  {
   "data": {"name": "leg"},
   "mark": {"type": "point", "filled": true, "opacity": 0},
   "encoding": {
    "color": {
     "field": "lab", "type": "nominal",
     "scale": {"domain": ["\u03c1\u0302", "0", "0.12", "0.25", "0.37", "0.5"], "range": ["transparent", "#4400ee", "#2b95e8", "#45ec2c", "#f2e33a", "#f8d2b0"]},
     "legend": {
      "orient": "none", "legendX": 0, "legendY": 0,
      "columns": 3, "gridAlign": "all", "title": null,
      "padding": 20, "columnPadding": 16, "rowPadding": 5,
      "labelFont": "Noto Sans", "labelFontSize": 25, "labelColor": "#222222", "labelOffset": 8,
      "symbolType": "circle", "symbolSize": 80, "symbolOpacity": 1, "symbolStrokeWidth": 0, "symbolOffset": -8,
      "strokeColor": "#333333", "fillColor": "#ffffff"
     }
    }
   }
  }
 ]
}
